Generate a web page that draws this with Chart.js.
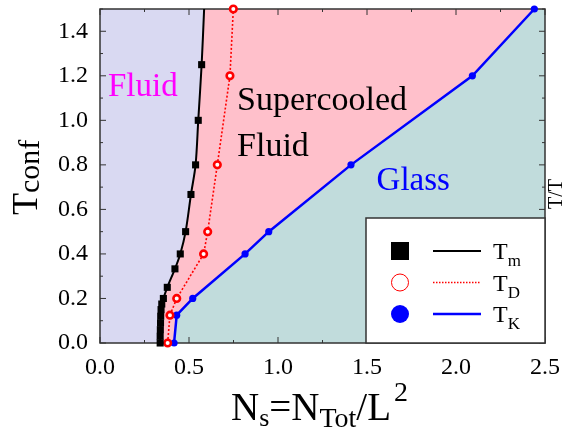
<!DOCTYPE html>
<html>
<head>
<meta charset="utf-8">
<script src="https://cdn.jsdelivr.net/npm/chart.js@4"></script>
<style>
  html, body { margin: 0; padding: 0; background: #fff; }
</style>
</head>
<body>
<canvas id="phaseChart" width="563" height="430"></canvas>
<script>
// melting line T_m (last point is the end of the fitted curve, no marker)
const tmX = [0.338, 0.338, 0.339, 0.340, 0.341, 0.343, 0.347, 0.356, 0.378, 0.421, 0.451, 0.481, 0.511, 0.537, 0.552, 0.571, 0.585];
const tmY = [0.000, 0.030, 0.060, 0.090, 0.120, 0.150, 0.175, 0.200, 0.250, 0.333, 0.400, 0.500, 0.667, 0.800, 1.000, 1.250, 1.500];
// dynamical temperature T_D
const tdX = [0.380, 0.393, 0.431, 0.582, 0.605, 0.659, 0.730, 0.749];
const tdY = [0.000, 0.125, 0.200, 0.400, 0.500, 0.800, 1.200, 1.500];
// Kauzmann temperature T_K
const tkX = [0.416, 0.431, 0.521, 0.815, 0.948, 1.410, 2.092, 2.440];
const tkY = [0.000, 0.125, 0.200, 0.400, 0.500, 0.800, 1.200, 1.500];

const xRange = [0, 2.5];
const yRange = [0, 1.5];
const xTickLabels = ['0.0', '0.5', '1.0', '1.5', '2.0', '2.5'];
const yTickLabels = ['0.0', '0.2', '0.4', '0.6', '0.8', '1.0', '1.2', '1.4'];

const SERIF = '"Liberation Serif", "Times New Roman", serif';

function toPoints(xs, ys) {
    return xs.map((x, i) => ({ x: x, y: ys[i] }));
}

// draw a run of text pieces with sub/superscript offsets
function drawRich(ctx, parts, x, y) {
    let cx = x;
    parts.forEach(p => {
        ctx.font = p.size + 'px ' + SERIF;
        ctx.fillText(p.t, cx, y + (p.dy || 0));
        cx += ctx.measureText(p.t).width + (p.gap || 0);
    });
}

const phasePlugin = {
    id: 'phase',
    beforeDatasetsDraw(chart) {
        const { ctx, chartArea: a, scales: { x, y } } = chart;
        ctx.save();
        ctx.beginPath();
        ctx.rect(a.left, a.top, a.right - a.left, a.bottom - a.top);
        ctx.clip();

        // supercooled region as base colour
        ctx.fillStyle = '#ffc0cb';
        ctx.fillRect(a.left, a.top, a.right - a.left, a.bottom - a.top);

        // fluid region: left of the T_m curve
        const tmLine = chart.getDatasetMeta(0).dataset;
        tmLine.updateControlPoints(a, 'x');
        ctx.beginPath();
        tmLine.path(ctx);
        ctx.lineTo(a.left, a.top);
        ctx.lineTo(a.left, a.bottom);
        ctx.closePath();
        ctx.fillStyle = '#d9d9f2';
        ctx.fill();

        // glass region: right of T_K
        const tkLine = chart.getDatasetMeta(2).dataset;
        tkLine.updateControlPoints(a, 'x');
        ctx.beginPath();
        tkLine.path(ctx);
        ctx.lineTo(a.right, a.top);
        ctx.lineTo(a.right, a.bottom);
        ctx.closePath();
        ctx.fillStyle = '#c1dcdc';
        ctx.fill();
        ctx.restore();

        // frame with inward ticks on all sides
        ctx.save();
        ctx.strokeStyle = '#333';
        ctx.lineWidth = 1.5;
        ctx.strokeRect(a.left, a.top, a.right - a.left, a.bottom - a.top);
        ctx.lineWidth = 1;
        ctx.beginPath();
        for (let k = 0; k <= 10; k++) {
            const v = k * 0.25;
            const px = x.getPixelForValue(v);
            const len = k % 2 === 0 ? 6 : 3;
            ctx.moveTo(px, a.bottom); ctx.lineTo(px, a.bottom - len);
            ctx.moveTo(px, a.top); ctx.lineTo(px, a.top + len);
        }
        for (let k = 0; k <= 15; k++) {
            const v = k * 0.1;
            const py = y.getPixelForValue(v);
            const len = k % 2 === 0 ? 6 : 3;
            ctx.moveTo(a.left, py); ctx.lineTo(a.left + len, py);
            ctx.moveTo(a.right, py); ctx.lineTo(a.right - len, py);
        }
        ctx.stroke();
        ctx.restore();

        // region labels
        ctx.save();
        ctx.textBaseline = 'alphabetic';
        ctx.textAlign = 'left';
        ctx.font = '33px ' + SERIF;
        ctx.fillStyle = '#ff00ff';
        ctx.fillText('Fluid', x.getPixelForValue(0.045), y.getPixelForValue(1.108));
        ctx.fillStyle = '#000';
        ctx.font = '34px ' + SERIF;
        ctx.fillText('Supercooled', x.getPixelForValue(0.770), y.getPixelForValue(1.046));
        ctx.fillText('Fluid', x.getPixelForValue(0.770), y.getPixelForValue(0.838));
        ctx.fillStyle = '#0000ff';
        ctx.font = '33px ' + SERIF;
        ctx.fillText('Glass', x.getPixelForValue(1.554), y.getPixelForValue(0.689));
        ctx.restore();
    },
    afterDatasetsDraw(chart) {
        const { ctx, chartArea: a } = chart;
        // legend box in the lower right corner
        const w = 179, h = 125;
        const bx = a.right - w, by = a.bottom - h;
        ctx.save();
        ctx.fillStyle = '#fff';
        ctx.fillRect(bx, by, w, h);
        ctx.strokeStyle = '#333';
        ctx.lineWidth = 1.5;
        ctx.strokeRect(bx, by, w, h);

        const rows = [
            { sub: 'm', kind: 'rect' },
            { sub: 'D', kind: 'open' },
            { sub: 'K', kind: 'dot' }
        ];
        rows.forEach((r, i) => {
            const cy = by + 33 + i * 31.5;
            const mx = bx + 34;
            ctx.setLineDash([]);
            if (r.kind === 'rect') {
                ctx.fillStyle = '#000';
                ctx.fillRect(mx - 9, cy - 9, 18, 18);
                ctx.strokeStyle = '#000';
                ctx.lineWidth = 2;
            } else if (r.kind === 'open') {
                ctx.beginPath();
                ctx.arc(mx, cy, 8.5, 0, Math.PI * 2);
                ctx.strokeStyle = '#ff0000';
                ctx.lineWidth = 1;
                ctx.stroke();
                ctx.lineWidth = 1.5;
                ctx.setLineDash([1.5, 1.5]);
            } else {
                ctx.beginPath();
                ctx.arc(mx, cy, 9, 0, Math.PI * 2);
                ctx.fillStyle = '#0000ff';
                ctx.fill();
                ctx.strokeStyle = '#0000ff';
                ctx.lineWidth = 2.5;
            }
            ctx.beginPath();
            ctx.moveTo(bx + 67, cy);
            ctx.lineTo(bx + 115, cy);
            ctx.stroke();
            ctx.setLineDash([]);
            ctx.fillStyle = '#000';
            ctx.textAlign = 'left';
            ctx.textBaseline = 'alphabetic';
            drawRich(ctx, [{ t: 'T', size: 24 }, { t: r.sub, size: 17, dy: 7 }], bx + 127, cy + 8);
        });
        ctx.restore();
    },
    afterDraw(chart) {
        const { ctx } = chart;
        ctx.save();
        ctx.fillStyle = '#000';
        ctx.textAlign = 'left';
        ctx.textBaseline = 'alphabetic';

        // x axis title
        drawRich(ctx, [
            { t: 'N', size: 39 },
            { t: 's', size: 26, dy: 6 },
            { t: '=', size: 39 },
            { t: 'N', size: 39 },
            { t: 'Tot', size: 28, dy: 7 },
            { t: '/', size: 39 },
            { t: 'L', size: 39, gap: 3 },
            { t: '2', size: 28, dy: -19 }
        ], 231, 420);

        // y axis title (rotated)
        ctx.save();
        ctx.translate(37, 215);
        ctx.rotate(-Math.PI / 2);
        drawRich(ctx, [{ t: 'T', size: 36 }, { t: 'conf', size: 30, dy: 2 }], 0, 0);
        ctx.restore();

        // edge of the neighbouring panel's rotated label
        ctx.save();
        ctx.translate(562, 201);
        ctx.rotate(-Math.PI / 2);
        drawRich(ctx, [{ t: 'T', size: 20 }, { t: '/', size: 20 }, { t: 'T', size: 20 }], -8, 0);
        ctx.restore();
        ctx.restore();
    }
};

new Chart(document.getElementById('phaseChart'), {
    type: 'line',
    data: {
        datasets: [
            {
                label: 'Tm',
                data: toPoints(tmX, tmY),
                borderColor: '#000',
                backgroundColor: '#000',
                borderWidth: 2,
                tension: 0.3,
                pointStyle: 'rect',
                pointRadius: c => c.dataIndex === tmX.length - 1 ? 0 : 5,
                pointBorderWidth: 0,
                clip: false
            },
            {
                label: 'TD',
                data: toPoints(tdX, tdY),
                borderColor: '#ff0000',
                backgroundColor: '#fff',
                borderWidth: 1.6,
                borderDash: [2, 2],
                tension: 0,
                pointStyle: 'circle',
                pointRadius: 3.3,
                pointBorderWidth: 2.6,
                pointBorderColor: '#ff0000',
                pointBackgroundColor: '#fff',
                clip: false
            },
            {
                label: 'TK',
                data: toPoints(tkX, tkY),
                borderColor: '#0000ff',
                backgroundColor: '#0000ff',
                borderWidth: 2.5,
                tension: 0,
                pointStyle: 'circle',
                pointRadius: 3.6,
                pointBorderWidth: 0,
                clip: false
            }
        ]
    },
    options: {
        responsive: false,
        devicePixelRatio: 1,
        animation: false,
        layout: { padding: { top: 9, right: 18, left: 0, bottom: 0 } },
        plugins: {
            legend: { display: false },
            tooltip: { enabled: false }
        },
        scales: {
            x: {
                type: 'linear',
                min: xRange[0],
                max: xRange[1],
                grid: { display: false, drawTicks: false },
                border: { display: false },
                ticks: {
                    stepSize: 0.5,
                    autoSkip: false,
                    maxRotation: 0,
                    padding: 10,
                    color: '#000',
                    font: { family: SERIF, size: 24 },
                    callback: v => xTickLabels[Math.round(v / 0.5)] || ''
                },
                afterFit: s => {
                    s.height = 87;
                    s.paddingLeft = 0;
                    s.paddingRight = 0;
                }
            },
            y: {
                type: 'linear',
                min: yRange[0],
                max: yRange[1],
                grid: { display: false, drawTicks: false },
                border: { display: false },
                ticks: {
                    stepSize: 0.2,
                    includeBounds: false,
                    autoSkip: false,
                    padding: 12,
                    color: '#000',
                    font: { family: SERIF, size: 24 },
                    callback: v => yTickLabels[Math.round(v / 0.2)] || ''
                },
                afterFit: s => {
                    s.width = 100;
                    s.paddingTop = 0;
                    s.paddingBottom = 0;
                }
            }
        }
    },
    plugins: [phasePlugin]
});
</script>
</body>
</html>
